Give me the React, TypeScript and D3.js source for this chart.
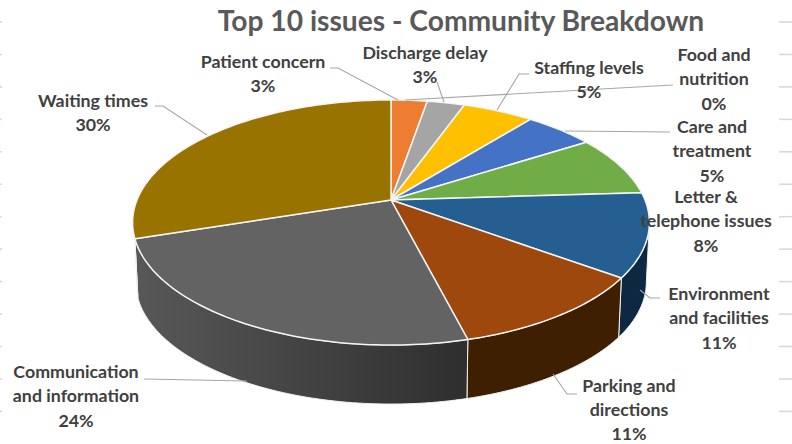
import React from "react";
import * as d3 from "d3";

// Share of community issues, in drawing order clockwise from twelve o'clock.
const categories = [
  "Food and nutrition",
  "Patient concern",
  "Discharge delay",
  "Staffing levels",
  "Care and treatment",
  "Letter & telephone issues",
  "Environment and facilities",
  "Parking and directions",
  "Communication and information",
  "Waiting times",
];
const shares = [0, 2.7, 2.8, 5.3, 5.2, 8, 11, 11, 24, 30];
const topColors = ["#5b9bd5", "#ed7d31", "#a5a5a5", "#ffc000", "#4472c4", "#70ad47", "#255e91", "#9e480e", "#636363", "#997300"];
const wallColors = ["#1f3864", "#7a3c10", "#555555", "#7f6000", "#203864", "#375623", "#0e2841", "#3f1f02", "url(#wallGrey)", "#4c3900"];

const title = "Top 10 issues - Community Breakdown";

// Wrapped label text, one entry per category.
const labelLines = [
  ["Food and", "nutrition"],
  ["Patient concern"],
  ["Discharge delay"],
  ["Staffing levels"],
  ["Care and", "treatment"],
  ["Letter &", "telephone issues"],
  ["Environment", "and facilities"],
  ["Parking and", "directions"],
  ["Communication", "and information"],
  ["Waiting times"],
];
// Label anchor: centre x and centre y of the first line.
const labelAnchors = [
  [714, 55], [263, 62], [425, 53], [589, 68], [712, 127],
  [706, 197], [719, 294], [629, 385.5], [76, 372], [93, 101],
];
// Leader polylines from label to slice.
const leaders = [
  [[673, 85], [405, 100]],
  [[330, 68], [338, 68], [398, 100]],
  [[437, 82], [444, 102]],
  [[529, 74], [519, 74], [497, 110]],
  [[670, 132], [565, 131]],
  [],
  [[660, 298], [650, 298], [640, 290]],
  [[577, 394], [567, 394], [553, 374]],
  [[144, 379], [247, 381]],
  [[155, 106], [163, 106], [207, 135]],
];

const gridRows = d3.range(0, 13).map((i) => 22 + i * 32.45);

const CX = 391;
const TILT = 0.1837;
const top = { cy: 200, rx: 254, ry: 118.4 };
const bottom = { cy: 259.5, rx: 251, ry: 118 };

// Perspective projection of a point on a tilted disc; angle is clockwise from the back.
function project(a: number, d: { cy: number; rx: number; ry: number }): [number, number] {
  const u = Math.sin(a);
  const v = -Math.cos(a);
  const s = 1 / (1 - TILT * v);
  return [CX + d.rx * u * s, d.cy + d.ry * v * s];
}

function arcPoints(a0: number, a1: number, d: typeof top): [number, number][] {
  const n = Math.max(2, Math.ceil(Math.abs(a1 - a0) / 0.02));
  const t = d3.scaleLinear().domain([0, n]).range([a0, a1]);
  return d3.range(n + 1).map((i) => project(t(i), d));
}

const line = d3.line();
const fmt = (v: number) => `${Math.round(v)}%`;
const WALL_FROM = (100.6 * Math.PI) / 180;
const WALL_TO = (252.2 * Math.PI) / 180;

export default function App() {
  const pie = d3.pie<number>().sort(null).startAngle(0).endAngle(2 * Math.PI);
  const slices = pie(shares);
  const font = "Lato, 'Open Sans', sans-serif";

  return (
    <svg
      width={792}
      height={444}
      style={{ position: "fixed", left: 0, top: 0, background: "#fff" }}
      fontFamily={font}
    >
      <defs>
        <linearGradient id="wallGrey" gradientUnits="userSpaceOnUse" x1={135} x2={470} y1={0} y2={0}>
          <stop offset="0" stopColor="#585858" />
          <stop offset="1" stopColor="#2e2e2e" />
        </linearGradient>
      </defs>

      {gridRows.map((y) => (
        <g key={y} stroke="#d9d9d9" strokeWidth={1.6}>
          <line x1={0} x2={2} y1={y} y2={y} />
          <line x1={779} x2={792} y1={y} y2={y} />
        </g>
      ))}

      <text x={461} y={31} textAnchor="middle" fontSize={28.2} fontWeight={700} fill="#595959">
        {title}
      </text>

      {/* Outer wall of the disc, only where it faces the viewer */}
      {slices.map((s, i) => {
        const a0 = Math.max(s.startAngle, WALL_FROM);
        const a1 = Math.min(s.endAngle, WALL_TO);
        if (a1 <= a0) return null;
        const pts = [...arcPoints(a0, a1, top), ...arcPoints(a1, a0, bottom)];
        return (
          <path
            key={categories[i]}
            d={line(pts) + "Z"}
            fill={wallColors[i]}
            stroke="#f2f2f2"
            strokeWidth={1}
            strokeLinejoin="round"
          />
        );
      })}

      {/* Top face */}
      {slices.map((s, i) => {
        if (s.endAngle === s.startAngle) return null;
        const pts: [number, number][] = [[CX, top.cy], ...arcPoints(s.startAngle, s.endAngle, top)];
        return (
          <path
            key={categories[i]}
            d={line(pts) + "Z"}
            fill={topColors[i]}
            stroke="#f4f4f4"
            strokeWidth={1.5}
            strokeLinejoin="round"
          />
        );
      })}

      {leaders.map((pts, i) =>
        pts.length ? (
          <path key={i} d={line(pts as [number, number][]) ?? ""} fill="none" stroke="#a6a6a6" strokeWidth={1.1} />
        ) : null
      )}

      {categories.map((c, i) => {
        const [x, y] = labelAnchors[i];
        const rows = [...labelLines[i], fmt(shares[i])];
        return (
          <text
            key={c}
            x={x}
            textAnchor="middle"
            fontSize={17.8}
            fontWeight={700}
            fill="#404040"
          >
            {rows.map((r, j) => (
              <tspan key={j} x={x} y={y + j * 24.4 + 6}>
                {r}
              </tspan>
            ))}
          </text>
        );
      })}
    </svg>
  );
}
